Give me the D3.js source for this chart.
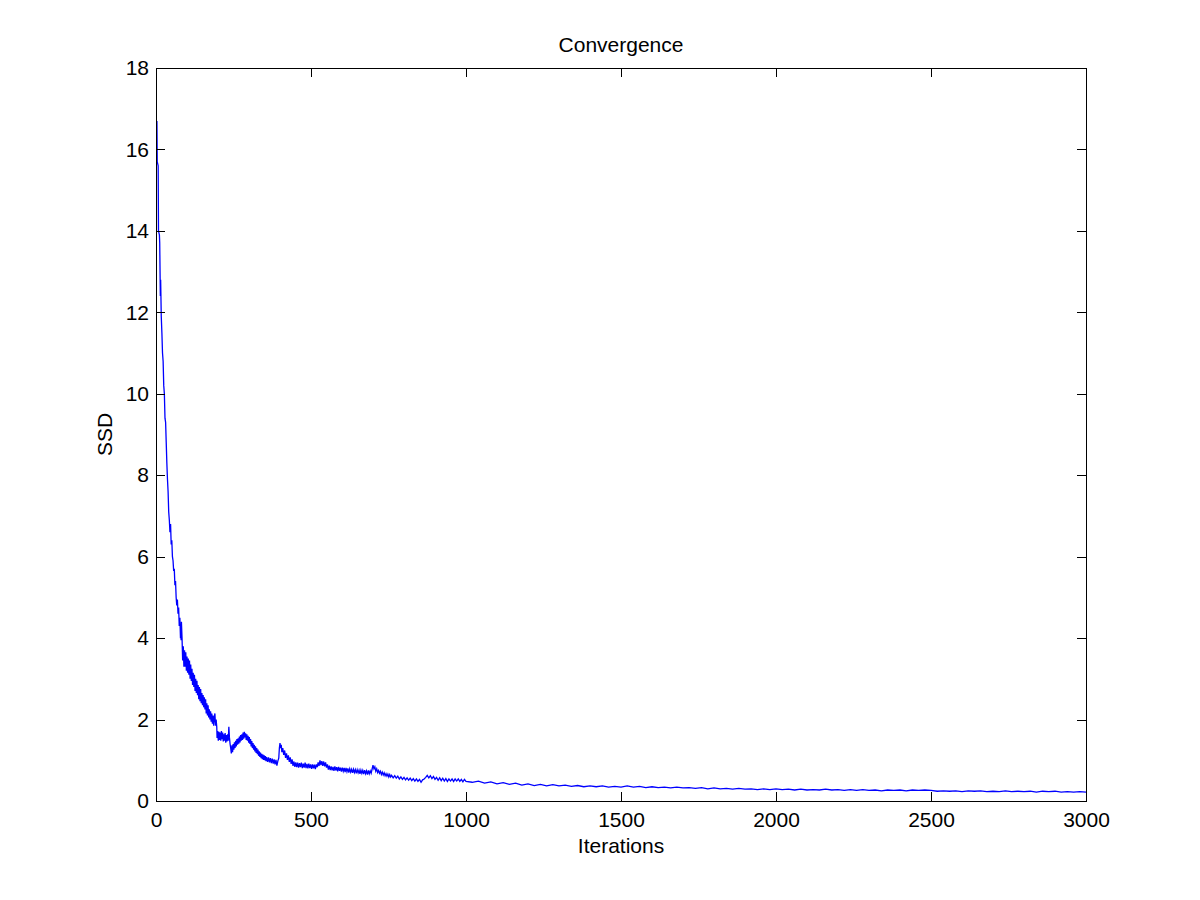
<!DOCTYPE html>
<html>
<head>
<meta charset="utf-8">
<script src="https://cdn.jsdelivr.net/npm/d3@7"></script>
<style>
  html, body { margin: 0; padding: 0; background: #fff; }
  svg { display: block; }
  text { font-family: "Liberation Sans", Arial, Helvetica, sans-serif; fill: #000; }
</style>
</head>
<body>
<svg id="chart" width="1200" height="900"></svg>
<script>
const chartTitle = "Convergence";
const xLabel = "Iterations";
const yLabel = "SSD";
const xTicks = [0, 500, 1000, 1500, 2000, 2500, 3000];
const yTicks = [0, 2, 4, 6, 8, 10, 12, 14, 16, 18];

// [iteration, SSD]
const ssdSeries = [
  [3,16.7],[4,15.7],[7,15.6],[8,14.0],[11,13.9],[12,13.7],[14,12.4],[15,12.8],[17,11.9],[19,11.5],
  [21,11.0],[23,10.8],[25,10.2],[27,10.0],[29,9.4],[31,9.3],[33,8.8],[35,8.3],[37,7.9],[39,7.6],
  [41,7.1],[43,6.9],[45,6.6],[47,6.8],[49,6.3],[51,6.4],[53,6.0],[55,5.9],[57,5.65],[59,5.7],
  [61,5.3],[63,5.4],[65,5.0],[67,4.8],[69,4.95],[71,4.6],[73,4.75],[75,4.3],[77,4.5],[79,4.0],
  [80,4.2],[81,3.95],[82,4.4],[84,4.0],[86,3.45],[88,3.8],[90,3.3],[92,3.7],[94,3.3],[96,3.65],
  [98,3.2],[100,3.55],[102,3.15],[104,3.5],[106,3.1],[108,3.45],[110,3.0],[112,3.35],[114,2.95],[116,3.25],
  [118,2.85],[120,3.15],[122,2.8],[124,3.1],[126,2.7],[128,3.0],[130,2.65],[132,2.95],[134,2.6],[136,2.85],
  [138,2.5],[140,2.8],[142,2.45],[144,2.75],[146,2.4],[148,2.65],[150,2.35],[152,2.6],[154,2.3],[156,2.55],
  [158,2.25],[160,2.5],[162,2.15],[164,2.4],[166,2.1],[168,2.35],[170,2.05],[172,2.25],[174,2.0],[176,2.2],
  [178,1.95],[180,2.15],[182,1.9],[184,2.1],[186,1.85],[188,2.05],[190,2.15],[192,1.85],[194,2.0],[196,1.82],
  [197,1.55],[199,1.72],[201,1.48],[203,1.7],[205,1.5],[207,1.68],[209,1.48],[211,1.72],[213,1.52],[215,1.68],
  [217,1.46],[219,1.64],[221,1.48],[223,1.67],[225,1.43],[227,1.62],[229,1.46],[231,1.64],[233,1.48],[235,1.82],
  [237,1.55],[239,1.4],[241,1.3],[243,1.17],[245,1.37],[247,1.2],[249,1.4],[251,1.26],[253,1.44],[255,1.3],
  [257,1.48],[259,1.34],[261,1.52],[263,1.38],[265,1.54],[267,1.41],[269,1.58],[271,1.44],[273,1.62],[275,1.48],
  [277,1.64],[279,1.5],[281,1.68],[283,1.53],[285,1.7],[287,1.56],[289,1.66],[291,1.5],[293,1.64],[295,1.48],
  [297,1.6],[299,1.43],[301,1.57],[303,1.4],[305,1.52],[307,1.34],[309,1.47],[311,1.3],[313,1.42],[315,1.26],
  [317,1.38],[319,1.22],[321,1.34],[323,1.18],[325,1.3],[327,1.15],[329,1.26],[331,1.11],[333,1.22],[335,1.08],
  [337,1.19],[339,1.05],[341,1.16],[343,1.03],[345,1.14],[347,1.01],[349,1.12],[351,1.0],[353,1.1],[355,0.98],
  [357,1.08],[360,0.96],[363,1.07],[366,0.95],[369,1.05],[372,0.93],[375,1.04],[378,0.92],[381,1.02],[384,0.9],
  [387,1.01],[390,0.87],[393,0.98],[396,1.05],[398,1.3],[400,1.42],[402,1.3],[404,1.38],[406,1.2],[409,1.3],
  [412,1.13],[415,1.24],[418,1.06],[421,1.17],[424,1.01],[427,1.12],[430,0.96],[433,1.07],[436,0.91],[439,1.02],
  [442,0.86],[445,0.97],[448,0.84],[451,0.95],[454,0.83],[457,0.94],[460,0.82],[463,0.93],[466,0.83],[469,0.94],
  [472,0.81],[475,0.92],[478,0.82],[481,0.94],[484,0.81],[487,0.91],[490,0.8],[493,0.92],[496,0.81],[499,0.9],
  [502,0.79],[505,0.9],[508,0.8],[511,0.89],[514,0.78],[517,0.9],[520,0.83],[523,0.95],[526,0.86],[529,1.0],
  [532,0.88],[535,0.98],[538,0.86],[541,0.97],[544,0.85],[547,0.95],[550,0.82],[553,0.9],[556,0.77],[559,0.87],
  [562,0.76],[565,0.85],[568,0.75],[571,0.84],[574,0.74],[577,0.85],[580,0.75],[583,0.83],[586,0.73],[589,0.84],
  [592,0.74],[595,0.82],[598,0.72],[601,0.82],[604,0.73],[607,0.81],[610,0.71],[613,0.81],[616,0.72],[619,0.8],
  [622,0.7],[625,0.79],[628,0.71],[631,0.78],[634,0.69],[637,0.78],[640,0.7],[643,0.77],[646,0.68],[649,0.77],
  [652,0.69],[655,0.76],[658,0.67],[661,0.76],[664,0.68],[667,0.75],[670,0.66],[673,0.76],[676,0.67],[679,0.74],
  [682,0.65],[685,0.75],[688,0.67],[691,0.74],[694,0.68],[697,0.78],[700,0.88],[703,0.79],[706,0.84],[709,0.73],
  [712,0.79],[715,0.7],[718,0.75],[721,0.68],[724,0.73],[727,0.65],[730,0.71],[733,0.64],[736,0.69],[739,0.62],
  [742,0.67],[745,0.61],[748,0.66],[751,0.59],[754,0.65],[757,0.59],[760,0.63],[765,0.57],[770,0.62],[775,0.56],
  [780,0.61],[785,0.54],[790,0.59],[795,0.53],[800,0.58],[805,0.52],[810,0.57],[815,0.51],[820,0.56],[825,0.5],
  [830,0.55],[835,0.49],[840,0.54],[845,0.48],[850,0.53],[855,0.46],[860,0.52],[865,0.54],[870,0.58],[875,0.63],
  [880,0.57],[885,0.62],[890,0.55],[895,0.6],[900,0.53],[905,0.58],[910,0.51],[915,0.57],[920,0.5],[925,0.56],
  [930,0.49],[935,0.55],[940,0.48],[945,0.54],[950,0.49],[955,0.54],[960,0.48],[965,0.54],[970,0.49],[975,0.54],
  [980,0.48],[985,0.53],[990,0.47],[995,0.53],[1000,0.48],[1020,0.46],[1040,0.49],[1060,0.44],[1080,0.47],[1100,0.42],
  [1120,0.45],[1140,0.41],[1160,0.44],[1180,0.39],[1200,0.42],[1220,0.38],[1240,0.41],[1260,0.37],[1280,0.4],[1300,0.37],
  [1320,0.39],[1340,0.36],[1360,0.38],[1380,0.35],[1400,0.37],[1420,0.35],[1440,0.37],[1460,0.34],[1480,0.36],[1500,0.34],
  [1520,0.37],[1540,0.34],[1560,0.36],[1580,0.33],[1600,0.35],[1620,0.33],[1640,0.34],[1660,0.32],[1680,0.34],[1700,0.32],
  [1720,0.33],[1740,0.31],[1760,0.33],[1780,0.3],[1800,0.32],[1820,0.3],[1840,0.31],[1860,0.29],[1880,0.31],[1900,0.29],
  [1920,0.3],[1940,0.28],[1960,0.3],[1980,0.28],[2000,0.3],[2020,0.28],[2040,0.29],[2060,0.27],[2080,0.29],[2100,0.27],
  [2120,0.28],[2140,0.27],[2160,0.29],[2180,0.27],[2200,0.28],[2220,0.26],[2240,0.28],[2260,0.26],[2280,0.28],[2300,0.26],
  [2320,0.27],[2340,0.25],[2360,0.27],[2380,0.26],[2400,0.27],[2420,0.25],[2440,0.27],[2460,0.26],[2480,0.27],[2500,0.26],
  [2520,0.24],[2540,0.25],[2560,0.24],[2580,0.25],[2600,0.23],[2620,0.25],[2640,0.24],[2660,0.25],[2680,0.23],[2700,0.24],
  [2720,0.23],[2740,0.25],[2760,0.23],[2780,0.24],[2800,0.23],[2820,0.24],[2840,0.22],[2860,0.24],[2880,0.23],[2900,0.24],
  [2920,0.22],[2940,0.23],[2960,0.22],[2980,0.23],[3000,0.22]
];

const data = ssdSeries.map(([it, v]) => ({ x: it, y: v }));

const svg = d3.select("#chart");
const margin = { left: 156, top: 68, right: 1200 - 1086, bottom: 900 - 801 };
const W = 1200 - margin.left - margin.right;
const H = 900 - margin.top - margin.bottom;

const x = d3.scaleLinear().domain([0, 3000]).range([margin.left, margin.left + W]);
const y = d3.scaleLinear().domain([0, 18]).range([margin.top + H, margin.top]);

const fontSize = 21;
const tickLen = 9;

svg.append("clipPath").attr("id", "clip")
  .append("rect").attr("x", margin.left).attr("y", margin.top).attr("width", W + 1).attr("height", H);

const line = d3.line().x(d => x(d.x)).y(d => y(d.y));
svg.append("path")
  .datum(data)
  .attr("clip-path", "url(#clip)")
  .attr("fill", "none")
  .attr("stroke", "#0000ff")
  .attr("stroke-width", 1.3)
  .attr("stroke-linejoin", "miter")
  .attr("d", line);

const bottomAxis = d3.axisBottom(x).tickValues(xTicks).tickSizeInner(-tickLen).tickSizeOuter(0).tickPadding(11).tickFormat(d3.format("d"));
const topAxis = d3.axisTop(x).tickValues(xTicks).tickSizeInner(-tickLen).tickSizeOuter(0).tickFormat("");
const leftAxis = d3.axisLeft(y).tickValues(yTicks).tickSizeInner(-tickLen).tickSizeOuter(0).tickPadding(7).tickFormat(d3.format("d"));
const rightAxis = d3.axisRight(y).tickValues(yTicks).tickSizeInner(-tickLen).tickSizeOuter(0).tickFormat("");

function styleAxis(g) {
  g.select(".domain").remove();
  g.selectAll(".tick line").attr("stroke", "#000").attr("stroke-width", 1).attr("shape-rendering", "crispEdges");
  g.selectAll(".tick text").attr("font-size", fontSize).attr("fill", "#000")
    .style("font-family", '"Liberation Sans", Arial, sans-serif');
}

svg.append("g").attr("transform", `translate(0,${margin.top + H})`).call(bottomAxis).call(styleAxis);
svg.append("g").attr("transform", `translate(0,${margin.top})`).call(topAxis).call(styleAxis);
svg.append("g").attr("transform", `translate(${margin.left},0)`).call(leftAxis).call(styleAxis);
svg.append("g").attr("transform", `translate(${margin.left + W},0)`).call(rightAxis).call(styleAxis);

svg.append("rect")
  .attr("x", margin.left + 0.5).attr("y", margin.top + 0.5)
  .attr("width", W).attr("height", H)
  .attr("fill", "none").attr("stroke", "#000").attr("stroke-width", 1)
  .attr("shape-rendering", "crispEdges");

svg.append("text")
  .attr("x", margin.left + W / 2).attr("y", 52)
  .attr("text-anchor", "middle").attr("font-size", fontSize)
  .text(chartTitle);

svg.append("text")
  .attr("x", margin.left + W / 2).attr("y", 853)
  .attr("text-anchor", "middle").attr("font-size", fontSize)
  .text(xLabel);

svg.append("text")
  .attr("transform", `translate(112, ${margin.top + H / 2}) rotate(-90)`)
  .attr("text-anchor", "middle").attr("font-size", fontSize)
  .text(yLabel);
</script>
</body>
</html>
